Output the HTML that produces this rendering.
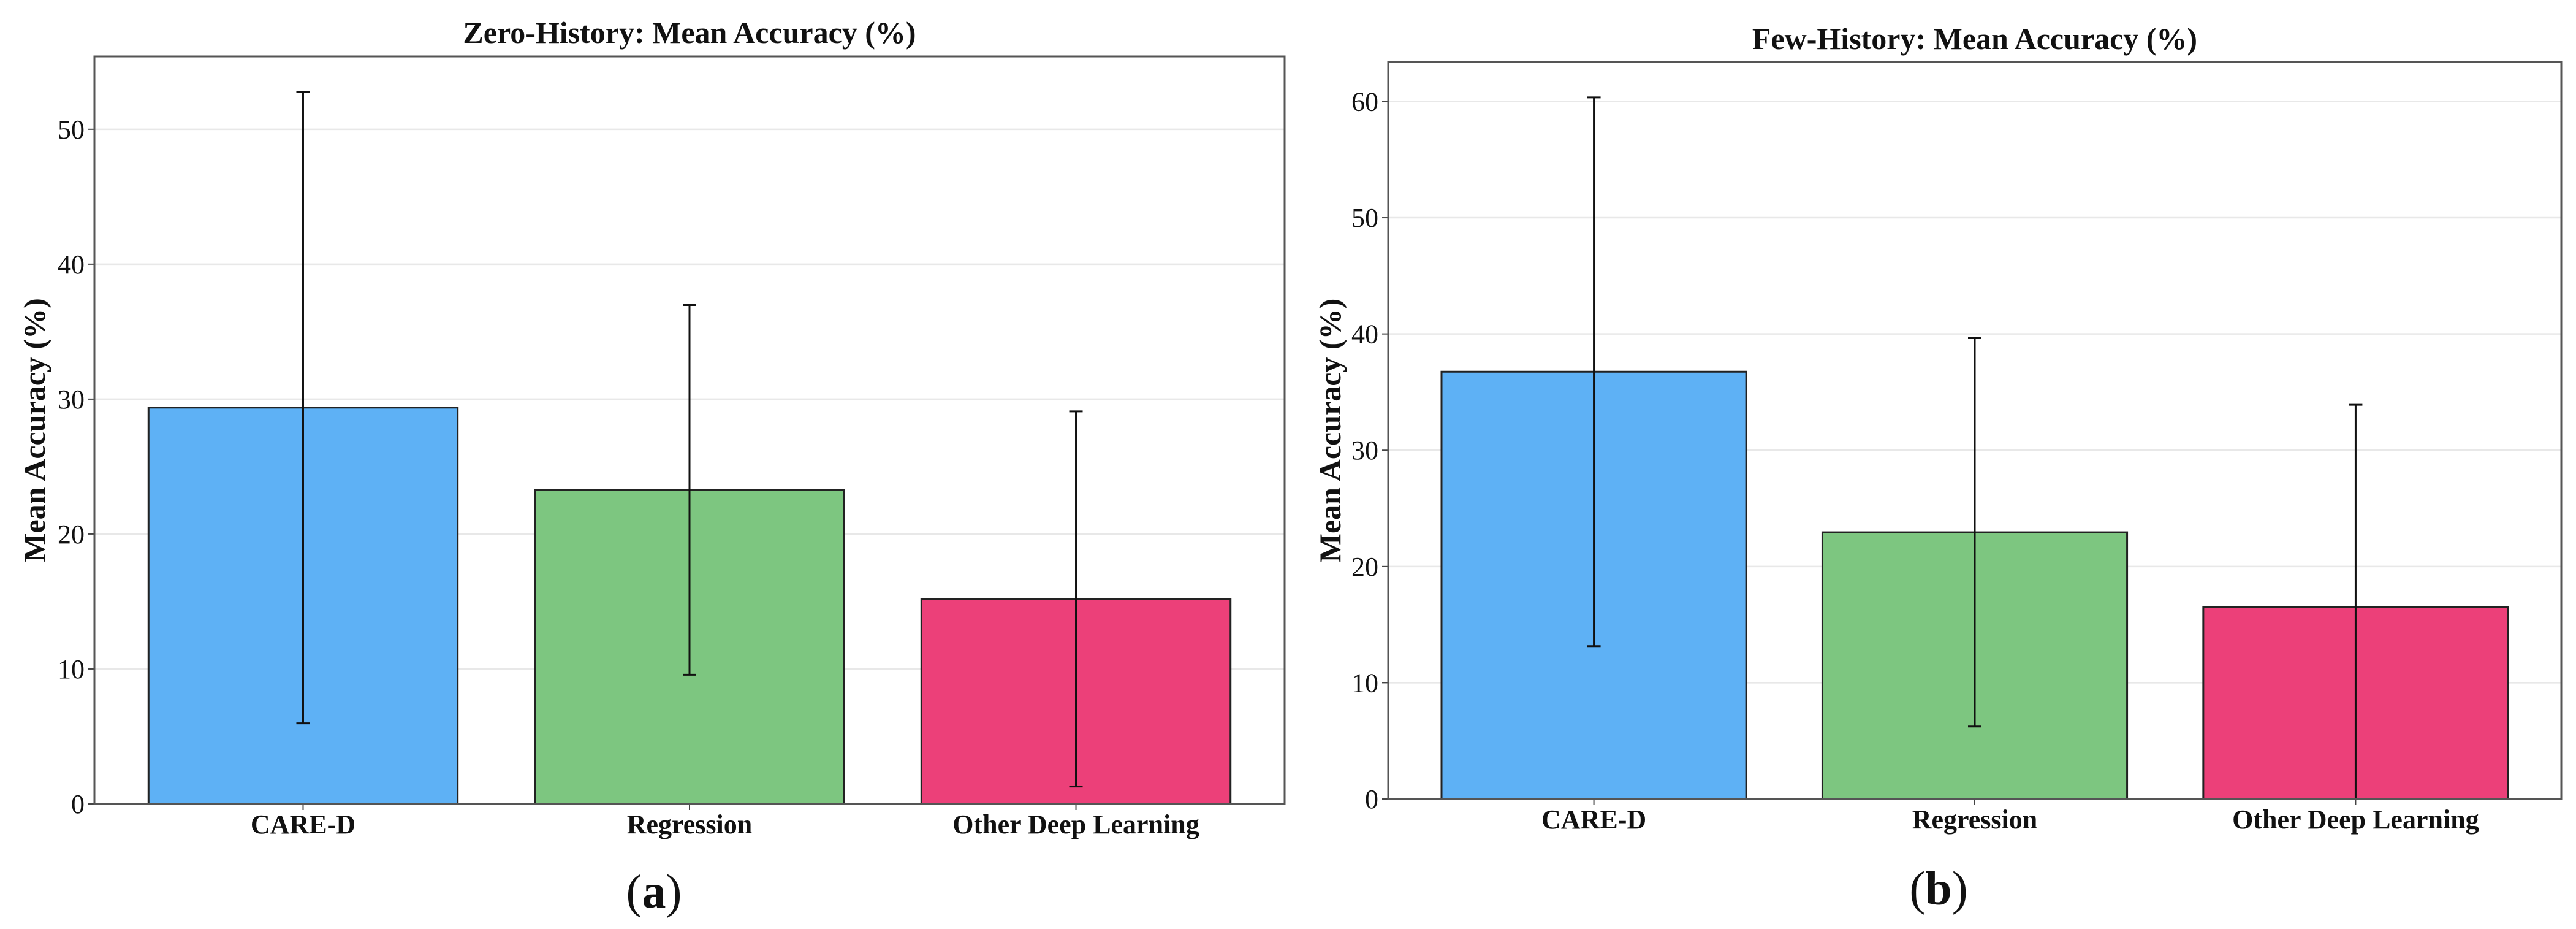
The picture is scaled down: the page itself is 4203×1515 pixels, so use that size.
<!DOCTYPE html>
<html><head><meta charset="utf-8"><style>
html,body{margin:0;padding:0;background:#fff;}
svg{display:block;font-family:"Liberation Serif","DejaVu Serif",serif;}
</style></head><body>
<svg id="fig" width="4203" height="1515" viewBox="0 0 4203 1515"></svg>
<script>
const categories = ["CARE-D", "Regression", "Other Deep Learning"];
const zeroMeans = [29.37, 23.27, 15.19];
const zeroErr = [23.4, 13.7, 13.9];
const fewMeans = [36.75, 22.94, 16.51];
const fewErr = [23.6, 16.7, 17.4];
const zeroTicks = [0, 10, 20, 30, 40, 50];
const fewTicks = [0, 10, 20, 30, 40, 50, 60];
const colors = ["#5EB1F5", "#7DC680", "#EC4079"];

const NS = "http://www.w3.org/2000/svg";
const svg = document.getElementById("fig");
function mk(tag, attrs, parent) {
  const e = document.createElementNS(NS, tag);
  for (const k in attrs) e.setAttribute(k, attrs[k]);
  (parent || svg).appendChild(e);
  return e;
}

function panel(cfg) {
  const g = mk("g", {});
  
  
  const xs = v => cfg.L + (v - (-0.54)) / (3.08) * (cfg.R - cfg.L);
  const ys = v => cfg.B - v / cfg.ymax * (cfg.B - cfg.T);
  cfg.ticks.forEach(t => {
    const y = ys(t);
    const gl = mk("line", {x1: cfg.L, x2: cfg.R, y1: y, y2: y, stroke: "#e8e8e8", "stroke-width": 2.5}, g);
    
    
    const tk = mk("line", {x1: cfg.L - 10, x2: cfg.L, y1: y, y2: y, stroke: "#444", "stroke-width": 2}, g);
    
    
    const tl = mk("text", {x: cfg.L - 16, y: y + 15, "text-anchor": "end", "font-size": 44, fill: "#111"}, g);
    tl.textContent = t;
    
    
  });
  const bw = 0.8 / 3.08 * (cfg.R - cfg.L);
  categories.forEach((c, i) => {
    const cx = xs(i);
    const top = ys(cfg.means[i]);
    const b = mk("rect", {x: cx - bw / 2, y: top, width: bw, height: cfg.B - top, fill: colors[i], stroke: "#222", "stroke-width": 3}, g);
    
    
    const hi = ys(cfg.means[i] + cfg.err[i]);
    const loV = Math.max(0, cfg.means[i] - cfg.err[i]);
    const lo = ys(loV);
    const eb = mk("g", {stroke: "#111", "stroke-width": 3}, g);
    
    
    mk("line", {x1: cx, x2: cx, y1: hi, y2: lo}, eb);
    mk("line", {x1: cx - 11, x2: cx + 11, y1: hi, y2: hi}, eb);
    if (cfg.means[i] - cfg.err[i] > 0) mk("line", {x1: cx - 11, x2: cx + 11, y1: lo, y2: lo}, eb);
    const xt = mk("line", {x1: cx, x2: cx, y1: cfg.B, y2: cfg.B + 10, stroke: "#444", "stroke-width": 2}, g);
    
    
    const xl = mk("text", {x: cx, y: cfg.B + 48, "text-anchor": "middle", "font-size": 44, "font-weight": "bold", fill: "#111"}, g);
    xl.textContent = c;
    
    
  });
  const frame = mk("rect", {x: cfg.L, y: cfg.T, width: cfg.R - cfg.L, height: cfg.B - cfg.T, fill: "none", stroke: "#555", "stroke-width": 3}, g);
  
  
  const ti = mk("text", {x: (cfg.L + cfg.R) / 2, y: cfg.titleY + 17, "text-anchor": "middle", "font-size": 50, "font-weight": "bold", fill: "#111"}, g);
  ti.textContent = cfg.title;
  
  
  const yl = mk("text", {x: 0, y: 0, transform: `translate(${cfg.ylX + 17},${(cfg.T + cfg.B) / 2}) rotate(-90)`, "text-anchor": "middle", "font-size": 50, "font-weight": "bold", fill: "#111"}, g);
  yl.textContent = "Mean Accuracy (%)";
  
  
  const sl = mk("text", {x: cfg.subX, y: cfg.subY + 26, "text-anchor": "middle", "font-size": 78, fill: "#111"}, g);
  sl.innerHTML = '(<tspan font-weight="bold">' + cfg.sub + '</tspan>)';
  
  
}

panel({name: "zero-history-chart", L: 154, R: 2096, T: 92, B: 1311, ymax: 55.4, ticks: zeroTicks, means: zeroMeans, err: zeroErr,
  title: "Zero-History: Mean Accuracy (%)", titleY: 53, ylX: 56, sub: "a", subX: 1067, subY: 1454});
panel({name: "few-history-chart", L: 2265, R: 4179, T: 101, B: 1303, ymax: 63.4, ticks: fewTicks, means: fewMeans, err: fewErr,
  title: "Few-History: Mean Accuracy (%)", titleY: 63, ylX: 2170, sub: "b", subX: 3163, subY: 1449});
</script>
</body></html>
